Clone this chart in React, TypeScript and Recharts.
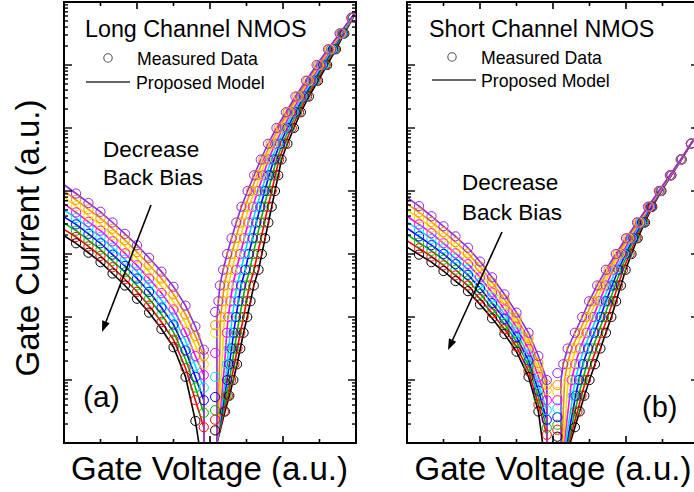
import React from 'react';
import { ComposedChart, Line, Scatter, XAxis, YAxis } from 'recharts';

// Gate voltage (a.u.), decades of gate current (log10, a.u.)
const SERIES_NAMES = ['black', 'red', 'green', 'blue', 'cyan', 'magenta', 'yellow', 'orange', 'violet'];
const COLORS = ['#000000', '#ff0000', '#00b400', '#0000ff', '#00dcff', '#ff00ff', '#f0dc00', '#ff8c00', '#8a2be2'];

const X_TICKS = [-3, -2, -1, 0, 1, 2, 3];

// ---------- Long channel NMOS ----------
const longAccX = [-4, -3.67, -3.33, -3, -2.67, -2.33, -2, -1.67, -1.33, -1, -0.67, -0.4, -0.17];
const longAcc = [
  [3.29, 3.17, 3.02, 2.87, 2.69, 2.5, 2.29, 2.07, 1.81, 1.52, 1.05, 0.35, -0.5],
  [3.39, 3.27, 3.12, 2.97, 2.79, 2.6, 2.4, 2.18, 1.92, 1.64, 1.19, 0.68, 0.25],
  [3.49, 3.37, 3.22, 3.07, 2.89, 2.71, 2.5, 2.29, 2.04, 1.76, 1.33, 0.88, 0.48],
  [3.59, 3.47, 3.32, 3.17, 2.99, 2.81, 2.61, 2.4, 2.15, 1.88, 1.47, 1.05, 0.68],
  [3.7, 3.57, 3.42, 3.27, 3.1, 2.91, 2.72, 2.51, 2.27, 2.0, 1.62, 1.22, 0.88],
  [3.8, 3.66, 3.51, 3.37, 3.2, 3.01, 2.82, 2.61, 2.38, 2.12, 1.76, 1.38, 1.08],
  [3.9, 3.76, 3.61, 3.47, 3.3, 3.12, 2.93, 2.72, 2.49, 2.24, 1.9, 1.55, 1.25],
  [4.0, 3.86, 3.71, 3.57, 3.4, 3.22, 3.03, 2.83, 2.61, 2.36, 2.04, 1.7, 1.38],
  [4.1, 3.96, 3.81, 3.67, 3.5, 3.32, 3.14, 2.94, 2.72, 2.48, 2.18, 1.85, 1.48],
];
const longInvD = [0, 0.25, 0.5, 0.75, 1, 1.25, 1.5, 1.75, 2, 2.25, 2.5, 2.75, 3, 3.25, 3.5, 3.75, 4, 4.25, 4.5, 4.75, 5, 5.25, 5.5, 5.75, 6, 6.25, 6.5, 6.75, 7];
const longInvX = [
  [0.19, 0.3, 0.41, 0.53, 0.64, 0.74, 0.83, 0.92, 1.02, 1.11, 1.2, 1.33, 1.42, 1.51, 1.6, 1.69, 1.78, 1.87, 1.96, 2.12, 2.3, 2.49, 2.71, 2.96, 3.21, 3.45, 3.68, 3.92, 4.11],
  [0.19, 0.29, 0.38, 0.49, 0.58, 0.67, 0.75, 0.83, 0.92, 1.0, 1.08, 1.21, 1.3, 1.4, 1.49, 1.59, 1.69, 1.79, 1.89, 2.05, 2.24, 2.44, 2.66, 2.92, 3.17, 3.42, 3.66, 3.91, 4.15],
  [0.19, 0.27, 0.36, 0.45, 0.53, 0.6, 0.67, 0.74, 0.81, 0.89, 0.97, 1.09, 1.18, 1.28, 1.38, 1.48, 1.59, 1.71, 1.82, 1.99, 2.18, 2.39, 2.62, 2.88, 3.14, 3.4, 3.65, 3.91, 4.15],
  [0.19, 0.26, 0.33, 0.4, 0.47, 0.53, 0.59, 0.65, 0.71, 0.78, 0.85, 0.97, 1.06, 1.17, 1.27, 1.38, 1.5, 1.62, 1.75, 1.92, 2.12, 2.34, 2.57, 2.84, 3.1, 3.37, 3.63, 3.9, 4.15],
  [0.19, 0.25, 0.3, 0.36, 0.42, 0.47, 0.51, 0.56, 0.61, 0.67, 0.74, 0.85, 0.95, 1.05, 1.16, 1.28, 1.41, 1.54, 1.68, 1.86, 2.06, 2.29, 2.53, 2.8, 3.07, 3.34, 3.62, 3.9, 4.15],
  [0.19, 0.23, 0.27, 0.32, 0.36, 0.4, 0.43, 0.46, 0.5, 0.56, 0.62, 0.72, 0.83, 0.94, 1.05, 1.17, 1.31, 1.46, 1.6, 1.79, 2.0, 2.23, 2.48, 2.75, 3.03, 3.31, 3.6, 3.89, 4.15],
  [0.19, 0.22, 0.25, 0.28, 0.3, 0.33, 0.35, 0.37, 0.4, 0.45, 0.5, 0.6, 0.71, 0.82, 0.94, 1.07, 1.22, 1.38, 1.53, 1.72, 1.94, 2.18, 2.43, 2.71, 2.99, 3.29, 3.58, 3.88, 4.15],
  [0.19, 0.2, 0.22, 0.23, 0.25, 0.26, 0.27, 0.28, 0.29, 0.34, 0.39, 0.48, 0.59, 0.71, 0.83, 0.96, 1.12, 1.29, 1.46, 1.66, 1.88, 2.13, 2.39, 2.67, 2.96, 3.26, 3.57, 3.88, 4.15],
  [0.19, 0.19, 0.19, 0.19, 0.19, 0.19, 0.19, 0.19, 0.19, 0.23, 0.27, 0.36, 0.47, 0.59, 0.72, 0.86, 1.03, 1.21, 1.39, 1.59, 1.82, 2.08, 2.34, 2.63, 2.92, 3.23, 3.55, 3.87, 4.2],
];
const longFirstCircleX = 0.14;
const longFirstCircleD = [0.2, 0.37, 0.52, 0.73, 1.05, 1.43, 1.75, 1.87, 2.08];

// ---------- Short channel NMOS ----------
const shortAccX = [-4, -3.67, -3.33, -3, -2.67, -2.33, -2, -1.67, -1.33, -1, -0.67, -0.4, -0.17];
const shortAcc = [
  [3.11, 2.99, 2.87, 2.73, 2.57, 2.41, 2.2, 1.98, 1.73, 1.45, 1.05, 0.5, -0.5],
  [3.21, 3.09, 2.96, 2.82, 2.66, 2.5, 2.29, 2.06, 1.81, 1.53, 1.14, 0.61, 0.13],
  [3.31, 3.18, 3.05, 2.91, 2.75, 2.58, 2.37, 2.14, 1.89, 1.61, 1.23, 0.72, 0.24],
  [3.41, 3.28, 3.14, 3.0, 2.84, 2.67, 2.46, 2.22, 1.97, 1.68, 1.31, 0.83, 0.37],
  [3.51, 3.38, 3.24, 3.09, 2.93, 2.76, 2.54, 2.31, 2.05, 1.76, 1.4, 0.94, 0.52],
  [3.6, 3.47, 3.33, 3.17, 3.01, 2.84, 2.63, 2.39, 2.12, 1.84, 1.49, 1.05, 0.68],
  [3.7, 3.57, 3.42, 3.26, 3.1, 2.93, 2.71, 2.47, 2.2, 1.92, 1.58, 1.16, 0.84],
  [3.8, 3.66, 3.51, 3.35, 3.19, 3.01, 2.8, 2.55, 2.28, 1.99, 1.66, 1.27, 0.92],
  [3.9, 3.76, 3.6, 3.44, 3.28, 3.1, 2.88, 2.63, 2.36, 2.07, 1.75, 1.38, 1.0],
];
const shortInvD = [0, 0.25, 0.5, 0.75, 1, 1.25, 1.5, 1.75, 2, 2.25, 2.5, 2.75, 3, 3.25, 3.5, 3.75, 4, 4.25, 4.5, 4.75, 5];
const shortInvX = [
  [0.47, 0.6, 0.73, 0.86, 1.0, 1.15, 1.3, 1.45, 1.6, 1.73, 1.86, 1.99, 2.15, 2.32, 2.52, 2.72, 2.97, 3.24, 3.52, 3.78, 4.14],
  [0.44, 0.55, 0.67, 0.78, 0.9, 1.04, 1.19, 1.34, 1.5, 1.64, 1.78, 1.92, 2.1, 2.28, 2.49, 2.71, 2.96, 3.24, 3.52, 3.78, 4.13],
  [0.41, 0.51, 0.6, 0.7, 0.81, 0.93, 1.08, 1.24, 1.4, 1.55, 1.7, 1.86, 2.04, 2.24, 2.47, 2.69, 2.95, 3.23, 3.52, 3.78, 4.12],
  [0.38, 0.46, 0.54, 0.62, 0.71, 0.82, 0.96, 1.13, 1.3, 1.45, 1.62, 1.79, 1.99, 2.2, 2.44, 2.68, 2.94, 3.23, 3.51, 3.78, 4.11],
  [0.35, 0.41, 0.48, 0.54, 0.61, 0.72, 0.85, 1.03, 1.2, 1.36, 1.54, 1.72, 1.94, 2.16, 2.41, 2.66, 2.94, 3.22, 3.51, 3.78, 4.1],
  [0.31, 0.36, 0.41, 0.46, 0.51, 0.61, 0.74, 0.92, 1.1, 1.27, 1.45, 1.65, 1.88, 2.12, 2.38, 2.65, 2.93, 3.22, 3.51, 3.78, 4.1],
  [0.28, 0.32, 0.35, 0.38, 0.42, 0.5, 0.63, 0.81, 1.0, 1.18, 1.37, 1.59, 1.83, 2.08, 2.36, 2.63, 2.92, 3.21, 3.5, 3.78, 4.09],
  [0.25, 0.27, 0.28, 0.3, 0.32, 0.39, 0.51, 0.71, 0.9, 1.08, 1.29, 1.52, 1.77, 2.04, 2.33, 2.62, 2.91, 3.21, 3.5, 3.78, 4.08],
  [0.22, 0.22, 0.22, 0.22, 0.22, 0.28, 0.4, 0.6, 0.8, 0.99, 1.21, 1.45, 1.72, 2.0, 2.3, 2.6, 2.9, 3.2, 3.5, 3.78, 4.07],
];
const shortFirstCircleX = 0.12;
const shortFirstCircleD = [0.1, 0.21, 0.29, 0.41, 0.55, 0.68, 0.81, 0.92, 1.11];

const DROP_X = -0.16;

// log-decade tick positions (major at each decade, minor at 2..9)
const Y_TICKS: number[] = [];
for (let n = 0; n < 7; n++) for (let k = 1; k <= 9; k++) Y_TICKS.push(n + Math.log10(k));
Y_TICKS.push(7);

type Pt = { x: number; d: number };

function lineData(accX: number[], acc: number[], invX: number[], invD: number[]): Pt[] {
  const pts: Pt[] = accX.map((x, i) => ({ x, d: acc[i] }));
  pts.push({ x: DROP_X, d: -1 });
  pts.push({ x: invX[0], d: -1 });
  invX.forEach((x, i) => pts.push({ x, d: invD[i] }));
  return pts;
}

function circleData(accX: number[], acc: number[], invX: number[], invD: number[], cx: number, cd: number): Pt[] {
  const pts: Pt[] = accX.slice(1).map((x, i) => ({ x, d: acc[i + 1] }));
  pts.push({ x: cx, d: cd });
  invX.forEach((x, i) => {
    if (invD[i] > cd + 0.12) pts.push({ x, d: invD[i] });
  });
  return pts;
}

const FONT = '"Liberation Sans", Arial, sans-serif';

const xTick = (dir: number) => (p: any) => {
  const v = p.payload.value;
  const major = Math.abs(v % 2) < 1e-6;
  const len = major ? 7 : 4;
  return <line x1={p.x} y1={p.y} x2={p.x} y2={p.y + dir * len} stroke="#000" strokeWidth={1.6} />;
};

const yTick = (dir: number) => (p: any) => {
  const v = p.payload.value;
  const major = Math.abs(v - Math.round(v)) < 1e-6;
  const len = major ? 8 : 4;
  return <line x1={p.x} y1={p.y} x2={p.x + dir * len} y2={p.y} stroke="#000" strokeWidth={1.4} />;
};

const axisLine = { stroke: '#000', strokeWidth: 2, strokeLinecap: 'square' as const };

function Panel(props: {
  left: number; width: number; plotLeft: number; plotWidth: number;
  accX: number[]; acc: number[][]; invX: number[][]; invD: number[];
  fcx: number; fcd: number[];
}) {
  const { left, width, plotLeft, plotWidth, accX, acc, invX, invD, fcx, fcd } = props;
  const AX = 2; // axis band size
  return (
    <div style={{ position: 'absolute', left, top: 0 }}>
      <ComposedChart
        width={width}
        height={492}
        margin={{ top: 1.5 - AX + 0.0001 < 0 ? 0 : 1.5 - AX, bottom: 49 - AX, left: plotLeft - AX, right: width - plotLeft - plotWidth - AX }}
      >
        <XAxis xAxisId="b" type="number" dataKey="x" domain={[-4, 4]} ticks={X_TICKS} interval={0}
          allowDataOverflow height={AX} tickSize={0} tickMargin={0} tickLine={false}
          axisLine={axisLine} tick={xTick(-1)} />
        <XAxis xAxisId="t" orientation="top" type="number" dataKey="x" domain={[-4, 4]} ticks={X_TICKS} interval={0}
          allowDataOverflow height={AX} tickSize={0} tickMargin={0} tickLine={false}
          axisLine={axisLine} tick={xTick(1)} />
        <YAxis yAxisId="l" type="number" dataKey="d" domain={[0, 7]} ticks={Y_TICKS} interval={0}
          allowDataOverflow width={AX} tickSize={0} tickMargin={0} tickLine={false}
          axisLine={axisLine} tick={yTick(1)} />
        <YAxis yAxisId="r" orientation="right" type="number" dataKey="d" domain={[0, 7]} ticks={Y_TICKS} interval={0}
          allowDataOverflow width={AX} tickSize={0} tickMargin={0} tickLine={false}
          axisLine={axisLine} tick={yTick(-1)} />
        {SERIES_NAMES.map((name, i) => (
          <Scatter key={'s' + name} name={name + ' data'} xAxisId="b" yAxisId="l"
            data={circleData(accX, acc[i], invX[i], invD, fcx, fcd[i])} dataKey="d"
            isAnimationActive={false}
            shape={(p: any) => (
              <circle cx={p.cx} cy={p.cy} r={4.6} fill="none" stroke={COLORS[i]} strokeWidth={1} />
            )} />
        ))}
        {SERIES_NAMES.map((name, i) => (
          <Line key={'l' + name} name={name} xAxisId="b" yAxisId="l" data={lineData(accX, acc[i], invX[i], invD)}
            dataKey="d" type="linear" stroke={COLORS[i]} strokeWidth={1.6} dot={false}
            isAnimationActive={false} />
        ))}
      </ComposedChart>
    </div>
  );
}

function Arrow({ x1, y1, x2, y2 }: { x1: number; y1: number; x2: number; y2: number }) {
  const ang = Math.atan2(y2 - y1, x2 - x1);
  const L = 11, W = 4;
  const bx = x2 - L * Math.cos(ang), by = y2 - L * Math.sin(ang);
  const px = -Math.sin(ang) * W, py = Math.cos(ang) * W;
  return (
    <g>
      <line x1={x1} y1={y1} x2={bx} y2={by} stroke="#000" strokeWidth={1.6} />
      <polygon points={`${x2},${y2} ${bx + px},${by + py} ${bx - px},${by - py}`} fill="#000" />
    </g>
  );
}

export default function App() {
  return (
    <div style={{ position: 'absolute', left: 0, top: 0, width: 694, height: 492, overflow: 'hidden', background: '#fff' }}>
      <Panel left={0} width={362} plotLeft={64} plotWidth={292}
        accX={longAccX} acc={longAcc} invX={longInvX} invD={longInvD}
        fcx={longFirstCircleX} fcd={longFirstCircleD} />
      <Panel left={362} width={344} plotLeft={45} plotWidth={292}
        accX={shortAccX} acc={shortAcc} invX={shortInvX} invD={shortInvD}
        fcx={shortFirstCircleX} fcd={shortFirstCircleD} />
      <svg width={694} height={492} style={{ position: 'absolute', left: 0, top: 0, pointerEvents: 'none' }}
        fontFamily={FONT}>
        <text x={38.5} y={238} fontSize={33} textAnchor="middle" transform="rotate(-90 38.5 238)">Gate Current (a.u.)</text>
        <text x={209.5} y={480} fontSize={33} textAnchor="middle">Gate Voltage (a.u.)</text>
        <text x={553} y={480} fontSize={33} textAnchor="middle">Gate Voltage (a.u.)</text>

        <text x={85} y={37} fontSize={23.3}>Long Channel NMOS</text>
        <circle cx={108} cy={58} r={4.2} fill="none" stroke="#555" strokeWidth={1.1} />
        <text x={137} y={65} fontSize={17.7}>Measured Data</text>
        <line x1={86} y1={82} x2={130} y2={82} stroke="#333" strokeWidth={1.5} />
        <text x={136} y={89} fontSize={17.7}>Proposed Model</text>
        <text x={103} y={157} fontSize={22.5}>Decrease</text>
        <text x={103} y={185} fontSize={22.5}>Back Bias</text>
        <Arrow x1={151} y1={205} x2={102} y2={332} />
        <text x={83} y={407} fontSize={30}>(a)</text>

        <text x={429} y={37} fontSize={23.3}>Short Channel NMOS</text>
        <circle cx={452} cy={57} r={4.2} fill="none" stroke="#555" strokeWidth={1.1} />
        <text x={481} y={64} fontSize={17.7}>Measured Data</text>
        <line x1={432} y1={80} x2={476} y2={80} stroke="#333" strokeWidth={1.5} />
        <text x={481} y={87} fontSize={17.7}>Proposed Model</text>
        <text x={462} y={190} fontSize={22.5}>Decrease</text>
        <text x={462} y={220} fontSize={22.5}>Back Bias</text>
        <Arrow x1={502} y1={232} x2={448} y2={350} />
        <text x={642} y={417} fontSize={29}>(b)</text>
      </svg>
    </div>
  );
}
